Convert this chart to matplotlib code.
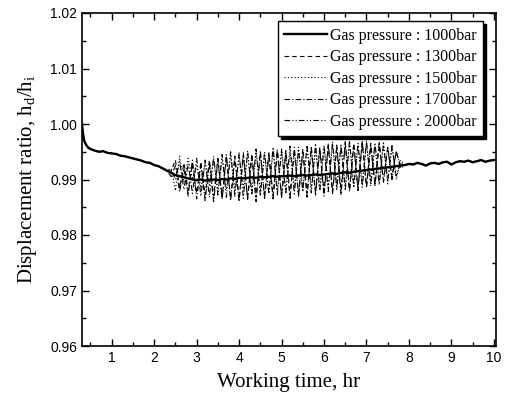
import numpy as np
import matplotlib
matplotlib.use('Agg')
import matplotlib.pyplot as plt
from matplotlib.ticker import MultipleLocator

plt.rcParams['mathtext.fontset'] = 'custom'
plt.rcParams['mathtext.rm'] = 'Liberation Serif'
plt.rcParams['mathtext.it'] = 'Liberation Serif:italic'

# common start (all pressures follow the same curve here)
t_early = [0.30, 0.32, 0.35, 0.40, 0.45, 0.50, 0.60, 0.70, 0.80, 0.90, 1.00, 1.10,
           1.20, 1.30, 1.40, 1.50, 1.60, 1.70, 1.80, 1.90, 2.00, 2.10, 2.20, 2.30]
y_early = [1.0000, 0.9985, 0.9970, 0.9962, 0.9957, 0.9955, 0.9952, 0.9950, 0.9951, 0.9948,
           0.9947, 0.9946, 0.9943, 0.9942, 0.9940, 0.9938, 0.9936, 0.9934, 0.9931, 0.9930,
           0.9926, 0.9924, 0.9920, 0.9916]

# oscillating region
t_osc = [2.4, 2.5, 2.6, 2.7, 2.8, 2.9, 3.0, 3.1, 3.2, 3.3, 3.4, 3.5, 3.6, 3.7, 3.8, 3.9,
         4.0, 4.1, 4.2, 4.3, 4.4, 4.5, 4.6, 4.7, 4.8, 4.9, 5.0, 5.1, 5.2, 5.3, 5.4, 5.5,
         5.6, 5.7, 5.8, 5.9, 6.0, 6.1, 6.2, 6.3, 6.4, 6.5, 6.6, 6.7, 6.8, 6.9, 7.0, 7.1,
         7.2, 7.3, 7.4, 7.5, 7.6, 7.7, 7.8]
y1000 = [0.9912, 0.9908, 0.9906, 0.9904, 0.9902, 0.9900, 0.9899, 0.9900, 0.9898, 0.9899,
         0.9900, 0.9899, 0.9901, 0.9900, 0.9902, 0.9901, 0.9903, 0.9902, 0.9903, 0.9904,
         0.9903, 0.9905, 0.9904, 0.9905, 0.9906, 0.9905, 0.9906, 0.9906, 0.9907, 0.9906,
         0.9907, 0.9908, 0.9907, 0.9908, 0.9909, 0.9908, 0.9909, 0.9910, 0.9911, 0.9910,
         0.9912, 0.9913, 0.9912, 0.9914, 0.9915, 0.9916, 0.9917, 0.9918, 0.9919, 0.9920,
         0.9921, 0.9922, 0.9923, 0.9924, 0.9925]
y1300 = [0.9915, 0.9935, 0.9885, 0.9930, 0.9880, 0.9928, 0.9875, 0.9932, 0.9872, 0.9935,
         0.9870, 0.9938, 0.9868, 0.9940, 0.9866, 0.9942, 0.9865, 0.9944, 0.9866, 0.9946,
         0.9868, 0.9948, 0.9868, 0.9948, 0.9870, 0.9950, 0.9870, 0.9952, 0.9872, 0.9952,
         0.9872, 0.9955, 0.9875, 0.9955, 0.9876, 0.9958, 0.9878, 0.9960, 0.9878, 0.9962,
         0.9880, 0.9964, 0.9882, 0.9965, 0.9885, 0.9966, 0.9888, 0.9965, 0.9892, 0.9962,
         0.9898, 0.9958, 0.9905, 0.9950, 0.9925]
y1500 = [0.9920, 0.9880, 0.9942, 0.9895, 0.9938, 0.9900, 0.9925, 0.9885, 0.9930, 0.9890,
         0.9935, 0.9878, 0.9938, 0.9882, 0.9945, 0.9880, 0.9942, 0.9885, 0.9948, 0.9878,
         0.9950, 0.9882, 0.9946, 0.9875, 0.9952, 0.9880, 0.9955, 0.9878, 0.9950, 0.9885,
         0.9958, 0.9880, 0.9960, 0.9884, 0.9955, 0.9880, 0.9962, 0.9886, 0.9965, 0.9882,
         0.9960, 0.9888, 0.9968, 0.9885, 0.9962, 0.9890, 0.9966, 0.9888, 0.9960, 0.9895,
         0.9968, 0.9892, 0.9962, 0.9900, 0.9935]
y1700 = [0.9905, 0.9925, 0.9878, 0.9920, 0.9870, 0.9935, 0.9865, 0.9925, 0.9862, 0.9930,
         0.9860, 0.9935, 0.9865, 0.9945, 0.9862, 0.9938, 0.9860, 0.9948, 0.9864, 0.9942,
         0.9860, 0.9952, 0.9866, 0.9945, 0.9865, 0.9955, 0.9868, 0.9948, 0.9866, 0.9958,
         0.9870, 0.9950, 0.9868, 0.9960, 0.9872, 0.9955, 0.9870, 0.9965, 0.9875, 0.9958,
         0.9872, 0.9968, 0.9878, 0.9962, 0.9880, 0.9970, 0.9885, 0.9962, 0.9888, 0.9968,
         0.9895, 0.9958, 0.9900, 0.9952, 0.9920]
y2000 = [0.9918, 0.9900, 0.9932, 0.9882, 0.9928, 0.9875, 0.9938, 0.9870, 0.9935, 0.9868,
         0.9942, 0.9872, 0.9945, 0.9868, 0.9950, 0.9870, 0.9948, 0.9866, 0.9952, 0.9872,
         0.9955, 0.9870, 0.9950, 0.9874, 0.9958, 0.9872, 0.9952, 0.9876, 0.9960, 0.9874,
         0.9955, 0.9878, 0.9962, 0.9876, 0.9965, 0.9880, 0.9958, 0.9878, 0.9968, 0.9884,
         0.9962, 0.9880, 0.9970, 0.9888, 0.9965, 0.9886, 0.9970, 0.9892, 0.9966, 0.9890,
         0.9962, 0.9898, 0.9960, 0.9905, 0.9930]

# common end
t_late = [7.9, 8.0, 8.1, 8.2, 8.3, 8.4, 8.5, 8.6, 8.7, 8.8, 8.9, 9.0, 9.1, 9.2, 9.3,
          9.4, 9.5, 9.6, 9.7, 9.8, 9.9, 10.0]
y_late = [0.9926, 0.9928, 0.9927, 0.9930, 0.9928, 0.9925, 0.9929, 0.9930, 0.9928, 0.9931,
          0.9932, 0.9927, 0.9931, 0.9933, 0.9932, 0.9934, 0.9931, 0.9933, 0.9935, 0.9932,
          0.9934, 0.9935]

labels = ['Gas pressure : 1000bar', 'Gas pressure : 1300bar', 'Gas pressure : 1500bar',
          'Gas pressure : 1700bar', 'Gas pressure : 2000bar']
mid_vals = [y1000, y1300, y1500, y1700, y2000]
styles = ['-', (0, (4, 3)), (0, (1, 2)), (0, (5, 2, 1, 2)), (0, (5, 2, 1, 2, 1, 2))]
widths = [1.7, 0.8, 0.8, 0.8, 0.8]

fig = plt.figure(figsize=(5.12, 3.99), dpi=100)
ax = fig.add_axes([82 / 512, 1 - 346 / 399, 414 / 512, 333 / 399])

t_all = np.concatenate([t_early, t_osc, t_late])
for lab, ym, ls, lw in zip(labels, mid_vals, styles, widths):
    y_all = np.concatenate([y_early, ym, y_late])
    ax.plot(t_all, y_all, color='black', linestyle=ls, linewidth=lw, label=lab)

ax.set_xlim(0.3, 10.05)
ax.set_ylim(0.96, 1.02)
ax.xaxis.set_major_locator(MultipleLocator(1))
ax.xaxis.set_minor_locator(MultipleLocator(0.5))
ax.yaxis.set_major_locator(MultipleLocator(0.01))
ax.yaxis.set_minor_locator(MultipleLocator(0.005))
ax.yaxis.set_major_formatter(matplotlib.ticker.FormatStrFormatter('%.2f'))
ax.tick_params(which='both', direction='in', top=True, right=True, width=1)
ax.tick_params(which='major', length=5)
ax.tick_params(which='minor', length=3)
for lab in ax.get_xticklabels() + ax.get_yticklabels():
    lab.set_fontfamily('Liberation Sans')
    lab.set_fontsize(10)
for sp in ax.spines.values():
    sp.set_linewidth(1.2)

ax.set_xlabel('Working time, hr', fontfamily='Liberation Serif', fontsize=15, labelpad=6)
ax.set_ylabel(r'Displacement ratio, h$_\mathrm{d}$/h$_\mathrm{i}$',
              fontfamily='Liberation Serif', fontsize=15, labelpad=8)

leg = ax.legend(loc='upper right', bbox_to_anchor=(0.968, 0.975), frameon=True,
                fancybox=False, shadow={'color': 'black', 'alpha': 1},
                prop={'family': 'Liberation Serif', 'size': 11.5},
                handlelength=2.7, handletextpad=0.15, labelspacing=0.35,
                borderpad=0.4, borderaxespad=0)
leg.get_frame().set_edgecolor('black')
leg.get_frame().set_linewidth(1.0)
leg.get_frame().set_alpha(1)

fig.savefig('out.png', dpi=100)
